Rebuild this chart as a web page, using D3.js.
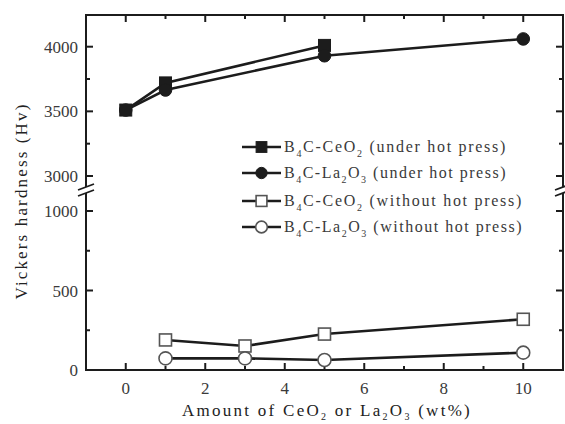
<!DOCTYPE html>
<html>
<head>
<meta charset="utf-8">
<script src="https://cdn.jsdelivr.net/npm/d3@7"></script>
<style>
  html, body { margin: 0; padding: 0; background: #fff; }
  svg { display: block; }
</style>
</head>
<body>
<svg id="chart" width="565" height="424"></svg>
<script>
// Amount of additive (wt%) for each series
const xCeHot = [0, 1, 5];
const yCeHot = [3510, 3720, 4010];
const xLaHot = [0, 1, 5, 10];
const yLaHot = [3510, 3665, 3930, 4060];
const xCeCold = [1, 3, 5, 10];
const yCeCold = [189, 151, 226, 319];
const xLaCold = [1, 3, 5, 10];
const yLaCold = [73, 73, 63, 109];

const xTickLabels = [0, 2, 4, 6, 8, 10];
const yLowTicks = [0, 500, 1000];
const yHighTicks = [3000, 3500, 4000];

const svg = d3.select("#chart");
const plotLeft = 86, plotRight = 563, plotTop = 15, plotBottom = 370, breakY = 190;

const x = d3.scaleLinear().domain([-1, 11]).range([plotLeft, plotRight]);
// Broken y axis: a lower segment (0–1000) and an upper segment (3000–4000)
const yLo = d3.scaleLinear().domain([0, 1000]).range([plotBottom, 211]);
const yHi = d3.scaleLinear().domain([3000, 4000]).range([176, 46.7]);

const ink = "#1c1c1c";
const textCol = "#3a3a3a";
const serif = "'Liberation Serif', 'DejaVu Serif', serif";

// Spreads the letters of a <text> so that it spans the given width
function spreadTo(sel, width) {
  const node = sel.node();
  const w = node.getComputedTextLength();
  const n = node.getNumberOfChars();
  sel.attr("letter-spacing", Math.max(0, (width - w) / n));
}

// Writes text pieces into a <text>, lowering the pieces flagged as subscripts
function richText(t, parts, size, subSize, drop) {
  let shifted = false;
  parts.forEach(p => {
    const isSub = !!p[1];
    const ts = t.append("tspan").text(p[0]).attr("font-size", isSub ? subSize : size);
    if (isSub && !shifted) { ts.attr("dy", drop); shifted = true; }
    else if (!isSub && shifted) { ts.attr("dy", -drop); shifted = false; }
  });
}

// Frame (left and right sides gapped at the break)
const frame = svg.append("g").attr("stroke", ink).attr("stroke-width", 2).attr("fill", "none");
frame.append("line").attr("x1", plotLeft - 1).attr("x2", plotRight + 1).attr("y1", plotTop).attr("y2", plotTop);
frame.append("line").attr("x1", plotLeft - 1).attr("x2", plotRight + 1).attr("y1", plotBottom).attr("y2", plotBottom);
[plotLeft, plotRight].forEach(px => {
  frame.append("line").attr("x1", px).attr("x2", px).attr("y1", plotTop).attr("y2", breakY - 3);
  frame.append("line").attr("x1", px).attr("x2", px).attr("y1", breakY + 3).attr("y2", plotBottom);
  // break marks
  [-3, 3].forEach(d => {
    frame.append("line").attr("stroke-width", 1.8)
      .attr("x1", px - 8).attr("y1", breakY + d + 3)
      .attr("x2", px + 8).attr("y2", breakY + d - 3);
  });
});

// X ticks: major every 2, minor every 1, drawn inward on bottom and top
const xTicks = d3.range(0, 11, 1);
const tk = svg.append("g").attr("stroke", ink).attr("stroke-width", 2);
xTicks.forEach(v => {
  const len = v % 2 === 0 ? 7 : 4;
  tk.append("line").attr("x1", x(v)).attr("x2", x(v)).attr("y1", plotBottom).attr("y2", plotBottom - len);
  tk.append("line").attr("x1", x(v)).attr("x2", x(v)).attr("y1", plotTop).attr("y2", plotTop + len);
});

// Y ticks: major every 500, minor every 250, inward on both sides
function yTick(yPos, major) {
  const len = major ? 7 : 4;
  tk.append("line").attr("x1", plotLeft).attr("x2", plotLeft + len).attr("y1", yPos).attr("y2", yPos);
  tk.append("line").attr("x1", plotRight).attr("x2", plotRight - len).attr("y1", yPos).attr("y2", yPos);
}
d3.range(0, 1001, 250).forEach(v => yTick(yLo(v), v % 500 === 0));
d3.range(3000, 4001, 250).forEach(v => yTick(yHi(v), v % 500 === 0));

// Tick labels
svg.append("g").selectAll("text").data(xTickLabels).join("text")
  .attr("x", d => x(d)).attr("y", 394)
  .attr("text-anchor", "middle")
  .attr("font-family", serif).attr("font-size", 17).attr("fill", textCol)
  .text(d => d);
svg.append("g").selectAll("text").data(yLowTicks).join("text")
  .attr("x", 78).attr("y", d => yLo(d) + 6)
  .attr("text-anchor", "end")
  .attr("font-family", serif).attr("font-size", 17).attr("fill", textCol)
  .text(d => d);
svg.append("g").selectAll("text").data(yHighTicks).join("text")
  .attr("x", 78).attr("y", d => yHi(d) + 6)
  .attr("text-anchor", "end")
  .attr("font-family", serif).attr("font-size", 17).attr("fill", textCol)
  .text(d => d);

// Series
const series = [
  { xs: xCeHot, ys: yCeHot, y: yHi, shape: "square", fill: true },
  { xs: xLaHot, ys: yLaHot, y: yHi, shape: "circle", fill: true },
  { xs: xCeCold, ys: yCeCold, y: yLo, shape: "square", fill: false },
  { xs: xLaCold, ys: yLaCold, y: yLo, shape: "circle", fill: false }
];

function marker(g, cx, cy, shape, filled, scale = 1) {
  if (shape === "square") {
    const s = 12 * scale;
    g.append("rect").attr("x", cx - s / 2).attr("y", cy - s / 2).attr("width", s).attr("height", s)
      .attr("fill", filled ? ink : "#fff")
      .attr("stroke", filled ? ink : "#555").attr("stroke-width", filled ? 1 : 1.6);
  } else {
    g.append("circle").attr("cx", cx).attr("cy", cy).attr("r", (filled ? 6.3 : 6.5) * scale)
      .attr("fill", filled ? ink : "#fff")
      .attr("stroke", filled ? ink : "#555").attr("stroke-width", filled ? 1 : 1.6);
  }
}

const plot = svg.append("g");
series.forEach(s => {
  const pts = s.xs.map((v, i) => [x(v), s.y(s.ys[i])]);
  plot.append("path").attr("d", d3.line()(pts))
    .attr("fill", "none").attr("stroke", ink).attr("stroke-width", 2.6);
});
series.forEach(s => {
  s.xs.forEach((v, i) => marker(plot, x(v), s.y(s.ys[i]), s.shape, s.fill));
});

// Legend
const legendRows = [
  { parts: [["B"], ["4", 1], ["C-CeO"], ["2", 1], [" (under hot press)"]], shape: "square", fill: true, width: 223 },
  { parts: [["B"], ["4", 1], ["C-La"], ["2", 1], ["O"], ["3", 1], [" (under hot press)"]], shape: "circle", fill: true, width: 223 },
  { parts: [["B"], ["4", 1], ["C-CeO"], ["2", 1], [" (without hot press)"]], shape: "square", fill: false, width: 239 },
  { parts: [["B"], ["4", 1], ["C-La"], ["2", 1], ["O"], ["3", 1], [" (without hot press)"]], shape: "circle", fill: false, width: 239 }
];
const legendY = [147, 173, 201, 227];
const lg = svg.append("g");
legendRows.forEach((r, i) => {
  const cy = legendY[i];
  lg.append("line").attr("x1", 242).attr("x2", 281).attr("y1", cy).attr("y2", cy)
    .attr("stroke", ink).attr("stroke-width", 2.6);
  marker(lg, 261.5, cy, r.shape, r.fill, 0.9);
  const t = lg.append("text").attr("x", 284).attr("y", cy + 5)
    .attr("font-family", serif).attr("fill", textCol)
    .style("white-space", "pre");
  richText(t, r.parts, 16, 10, 5);
  spreadTo(t, r.width);
});

// Axis titles
const xt = svg.append("text").attr("x", 327).attr("y", 416).attr("text-anchor", "middle")
  .attr("font-family", serif).attr("fill", "#222")
  .style("white-space", "pre");
richText(xt, [["Amount of CeO"], ["2", 1], [" or La"], ["2", 1], ["O"], ["3", 1], [" (wt%)"]], 17, 10, 4);
spreadTo(xt, 290);

const yt = svg.append("text")
  .attr("transform", "translate(27,201) rotate(-90)")
  .attr("text-anchor", "middle")
  .attr("font-family", serif).attr("font-size", 17).attr("fill", "#222")
  .text("Vickers hardness (Hv)");
spreadTo(yt, 197);
</script>
</body>
</html>
